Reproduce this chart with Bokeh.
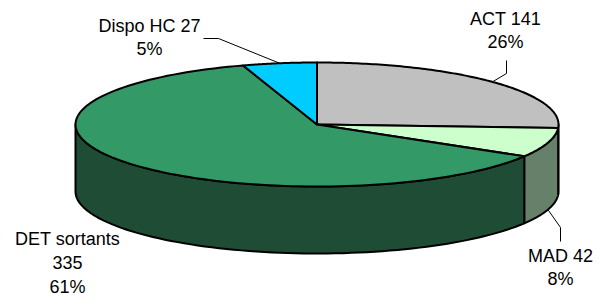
import numpy as np
from bokeh.plotting import figure
from bokeh.models import Range1d
from bokeh.core.properties import value
from bokeh.embed import file_html
from bokeh.resources import INLINE

# ---- data ----
categories = ["ACT", "MAD", "DET sortants", "Dispo HC"]
counts = [141, 42, 335, 27]
top_colors = ["#C0C0C0", "#CCFFCC", "#339966", "#00CCFF"]
side_colors = ["#7A7A7A", "#66806A", "#1E4C34", "#007A99"]
label_lines = [["ACT 141", "26%"], ["MAD 42", "8%"], ["DET sortants", "335", "61%"], ["Dispo HC 27", "5%"]]

# ---- layout (reference pixel space, y downwards) ----
W, H = 599, 297
cx, cy, rx, ry, depth = 316.5, 124.0, 241.5, 62.0, 67.0
label_xy = [(505, 25), (560, 262), (67, 245.5), (149, 32)]   # first-line baseline
line_gap = 23.8
elbows = [[(506, 73), (506, 60)], [(560, 227), (560, 241)], [], [(218, 38), (203, 38)]]
anchor_on_bottom = [False, True, False, False]

p = figure(width=W, height=H, output_backend="svg", toolbar_location=None,
           x_range=Range1d(0, W), y_range=Range1d(H, 0), min_border=0)
p.axis.visible = False
p.grid.visible = False
p.outline_line_color = None
p.background_fill_color = "white"
p.border_fill_color = "white"

total = float(sum(counts))
fr = np.array(counts) / total
ends = np.cumsum(fr) * 360.0
starts = ends - fr * 360.0


def pt(theta_deg, dz=0.0):
    t = np.radians(theta_deg)
    return cx + rx * np.sin(t), cy - ry * np.cos(t) + dz


# side walls (front half: 90..270 deg)
sxs, sys, scol = [], [], []
for a, b, c in zip(starts, ends, side_colors):
    lo, hi = max(a, 90.0), min(b, 270.0)
    if hi <= lo:
        continue
    th = np.linspace(lo, hi, 80)
    x1, y1 = pt(th)
    x2, y2 = pt(th[::-1], depth)
    sxs.append(list(np.concatenate([x1, x2])))
    sys.append(list(np.concatenate([y1, y2])))
    scol.append(c)
p.patches(sxs, sys, fill_color=scol, line_color="black", line_width=2, line_join="round")

# top faces
txs, tys = [], []
for a, b in zip(starts, ends):
    th = np.linspace(a, b, 120)
    x, y = pt(th)
    txs.append([cx] + list(x))
    tys.append([cy] + list(y))
p.patches(txs, tys, fill_color=top_colors, line_color="black", line_width=2, line_join="round")

# leader lines
for i, (a, b) in enumerate(zip(starts, ends)):
    if not elbows[i]:
        continue
    mid = (a + b) / 2.0
    ax, ay = pt(mid, depth if anchor_on_bottom[i] else 0.0)
    xs = [ax] + [e[0] for e in elbows[i]]
    ys = [ay] + [e[1] for e in elbows[i]]
    p.line(xs, ys, line_color="black", line_width=1)

# labels
for (lx, ly), lines in zip(label_xy, label_lines):
    for k, s in enumerate(lines):
        p.text(x=[lx], y=[ly + k * line_gap], text=[s], text_align="center",
               text_baseline="alphabetic", text_font=value("Liberation Sans"),
               text_font_size="18px", text_color="black", y_offset=-7)

open("out.html", "w").write(file_html(p, INLINE))
